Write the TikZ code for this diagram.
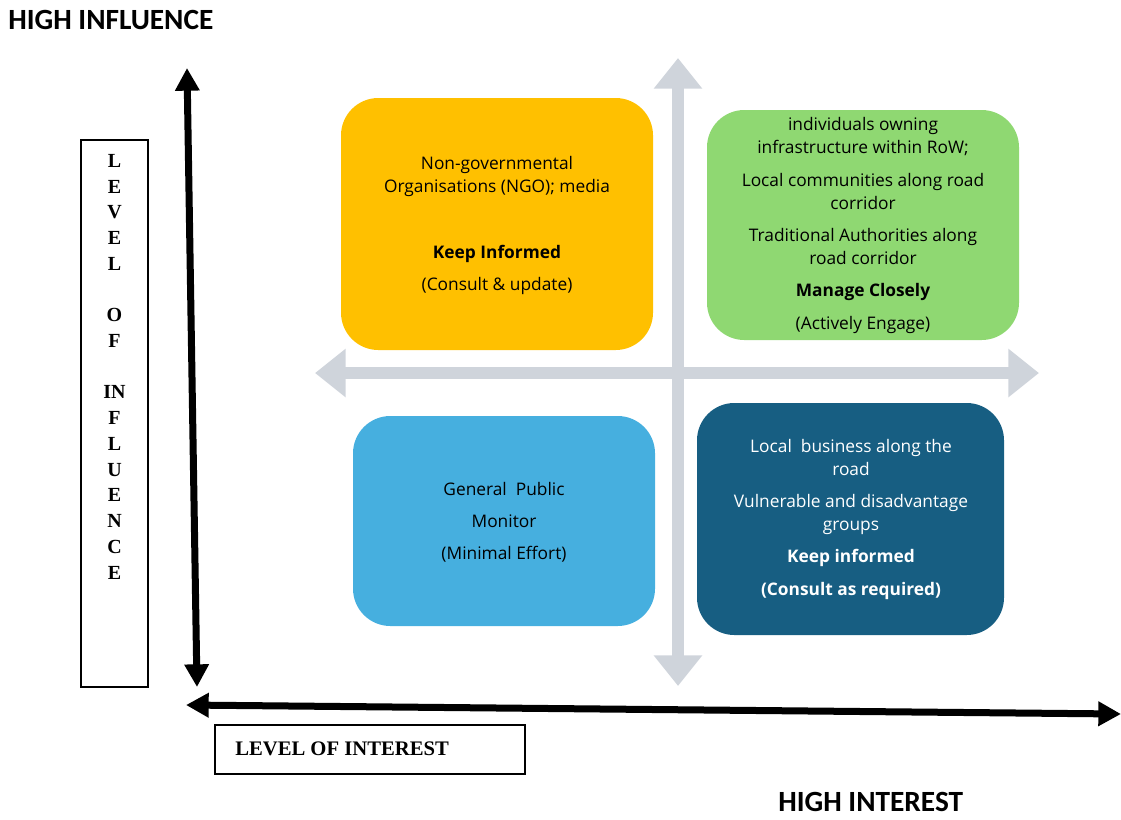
\documentclass[tikz,border=0pt]{standalone}
\usepackage{fontspec}
\setmainfont{Liberation Serif}
\newfontfamily\boxfont{Open Sans}
\newfontfamily\headfont{Carlito}
\usetikzlibrary{arrows.meta}
\definecolor{orangebox}{HTML}{FFC000}
\definecolor{greenbox}{HTML}{8FD872}
\definecolor{lightbluebox}{HTML}{46AFDF}
\definecolor{darkbluebox}{HTML}{175E82}
\definecolor{crossgray}{HTML}{CFD4DB}
\tikzset{
  quad/.style={rounded corners=28pt, inner sep=0pt, draw=none},
  quadtext/.style={font=\boxfont\fontsize{13}{17.25}\selectfont, align=center, inner sep=0pt},
  axisarrow/.style={line width=5.25pt, {Triangle[length=17pt,width=17.5pt]}-{Triangle[length=17pt,width=17.5pt]}},
  crossarrow/.style={draw=crossgray, line width=9pt, {Triangle[length=23pt,width=35pt]}-{Triangle[length=23pt,width=35pt]}},
  labelbox/.style={draw, line width=0.8pt, inner sep=0pt},
  headline/.style={font=\headfont\bfseries\fontsize{22}{24}\selectfont, inner sep=0pt},
  axisletters/.style={font=\bfseries\fontsize{15}{19.3}\selectfont, align=center, inner sep=0pt}
}
\begin{document}
\begin{tikzpicture}[x=0.75pt,y=-0.75pt]
\useasboundingbox (0,0) rectangle (1121,819);

% grey cross arrows
\coordinate (vt) at (678,58);
\coordinate (vb) at (678,686);
\coordinate (hl) at (315,373);
\coordinate (hr) at (1039,373);
\draw[crossarrow] (hl) -- (hr);
\draw[crossarrow] (vt) -- (vb);

% quadrant boxes
\node[quad, fill=orangebox, minimum width=234pt, minimum height=189pt] (qo) at (497,224) {};
\node[quad, fill=greenbox, minimum width=234pt, minimum height=172.5pt] (qg) at (863,225) {};
\node[quad, fill=lightbluebox, minimum width=226.5pt, minimum height=157.5pt] (qb) at (504,521) {};
\node[quad, fill=darkbluebox, minimum width=230.25pt, minimum height=174pt] (qd) at (850.5,519) {};

\node[quadtext] (to) at (497,225) {Non-governmental\\Organisations (NGO); media\\[32.25pt]\textbf{Keep Informed}\\[6.75pt](Consult \& update)};
\node[quadtext] (tg) at (863,225) {individuals owning\\infrastructure within RoW;\\[7.5pt]Local communities along road\\corridor\\[6.75pt]Traditional Authorities along\\road corridor\\[6.75pt]\textbf{Manage Closely}\\[7.5pt](Actively Engage)};
\node[quadtext] (tb) at (504,522) {General\ \ Public\\[6.75pt]Monitor\\[6.75pt](Minimal Effort)};
\node[quadtext, text=white] (td) at (851,519) {Local\ \ business along the\\road\\[6.75pt]Vulnerable and disadvantage\\groups\\[6.75pt]\textbf{Keep informed}\\[7.5pt]\textbf{(Consult as required)}};

% black axes
\coordinate (at) at (187,68);
\coordinate (ab) at (197,687);
\coordinate (al) at (186,705);
\coordinate (ar) at (1121,714);
\draw[axisarrow] (at) -- (ab);
\draw[axisarrow] (al) -- (ar);

% label boxes
\node[labelbox, minimum width=50.25pt, minimum height=410.25pt] (lv) at (114.5,413.5) {};
\node[axisletters, anchor=north] (lvt) at (114.5,154) {L\\E\\V\\E\\L\\[19.3pt]O\\F\\[19.3pt]IN\\F\\L\\U\\E\\N\\C\\E};
\node[labelbox, minimum width=232.5pt, minimum height=36.75pt] (li) at (370,749.5) {};
\node[font=\bfseries\fontsize{15.5}{17}\selectfont, inner sep=0pt, anchor=west] (lit) at (235,749) {LEVEL OF INTEREST};

% headings
\node[headline, anchor=west] (hi) at (8,20) {HIGH INFLUENCE};
\node[headline, anchor=west] (hx) at (778,802) {HIGH INTEREST};
\end{tikzpicture}
\end{document}
